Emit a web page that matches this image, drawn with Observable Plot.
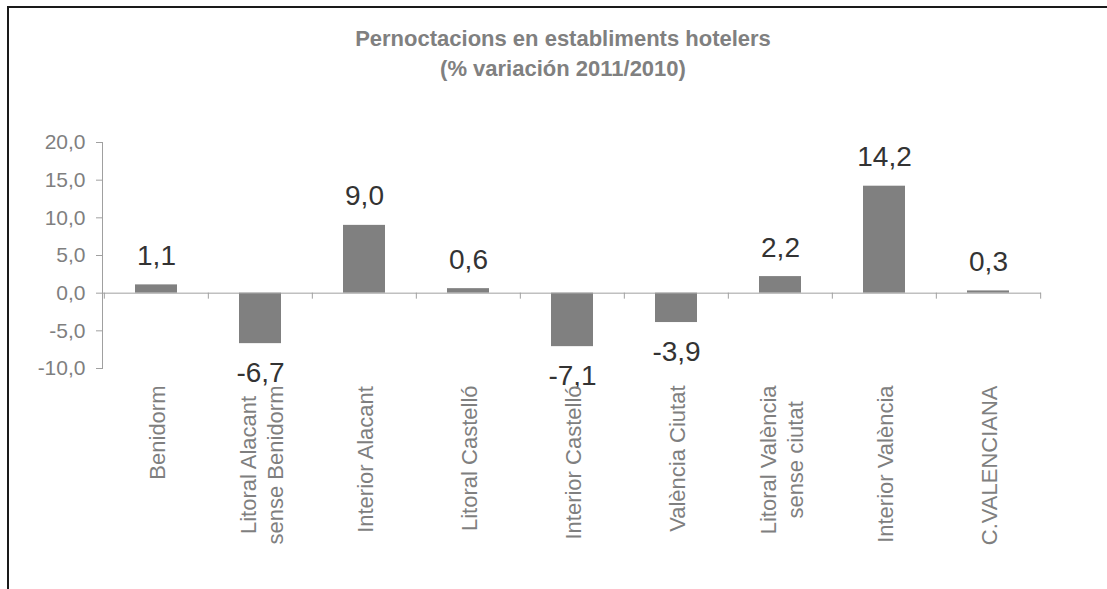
<!DOCTYPE html>
<html><head><meta charset="utf-8">
<script src="https://cdn.jsdelivr.net/npm/d3@7"></script>
<script src="https://cdn.jsdelivr.net/npm/@observablehq/plot@0.6"></script>
<style>
html,body{margin:0;padding:0;background:#fff;overflow:hidden;width:1107px;height:589px}
#frame{position:absolute;left:7px;top:6px;width:1200px;height:700px;border:2px solid #1a1a1a;box-sizing:border-box}
#title{position:absolute;left:0;top:24px;width:1126px;text-align:center;font:bold 22px "Liberation Sans",Arial,sans-serif;line-height:30px;color:#808080}
#chart{position:absolute;left:0;top:0}
</style></head><body>
<div id="frame"></div>
<div id="title">Pernoctacions en establiments hotelers<br>(% variación 2011/2010)</div>
<div id="chart"></div>
<script>
const categories = ["Benidorm", "Litoral Alacant\nsense Benidorm", "Interior Alacant", "Litoral Castelló", "Interior Castelló", "València Ciutat", "Litoral València\nsense ciutat", "Interior València", "C.VALENCIANA"];
const values = [1.1, -6.7, 9.0, 0.6, -7.1, -3.9, 2.2, 14.2, 0.3];
const yTicks = [-10, -5, 0, 5, 10, 15, 20];

const W = 1107, H = 589, mL = 102, mR = 66, mT = 142, mB = 221;
const step = (W - mL - mR) / categories.length;
const data = categories.map((c, i) => ({cat: c, value: values[i]}));
const fmt = v => v.toFixed(1).replace(".", ",");
const font = '"Liberation Sans", Arial, sans-serif';
const labelSize = 22;
const ctx = document.createElement("canvas").getContext("2d");
ctx.font = `${labelSize}px ${font}`;
const axisColor = "#a0a0a0";

const labelMarks = categories.map(c => {
  const w = Math.max(...c.split("\n").map(s => ctx.measureText(s).width));
  return Plot.text([c], {x: d => d, frameAnchor: "bottom", dy: 17 + w / 2, rotate: -90,
    textAnchor: "middle", lineAnchor: "middle", lineHeight: 1.22, fontSize: labelSize, fill: "#7f7f7f", text: d => d});
});

const chart = Plot.plot({
  width: W, height: H,
  marginLeft: mL, marginRight: mR, marginTop: mT, marginBottom: mB,
  style: {fontFamily: font, background: "transparent", overflow: "visible"},
  x: {domain: categories, paddingInner: 0.6, paddingOuter: 0.3, axis: null},
  y: {domain: [-10, 20], axis: null},
  marks: [
    Plot.barY(data, {x: "cat", y: "value", fill: "#808080"}),
    Plot.ruleY([0], {stroke: axisColor}),
    Plot.frame({anchor: "left", stroke: axisColor}),
    Plot.ruleX(categories, {x: d => d, y1: 0, y2: 0, dx: -step / 2, insetBottom: -6, stroke: axisColor}),
    Plot.ruleX([categories[categories.length - 1]], {x: d => d, y1: 0, y2: 0, dx: step / 2, insetBottom: -6, stroke: axisColor}),
    Plot.axisY({ticks: yTicks, tickFormat: fmt, tickSize: 6, tickPadding: 11, fontSize: 21, stroke: axisColor, fill: "#7f7f7f", label: null}),
    Plot.text(data.filter(d => d.value >= 0), {x: "cat", y: "value", text: d => fmt(d.value), lineAnchor: "bottom", dy: -20, fontSize: 28, fill: "#333"}),
    Plot.text(data.filter(d => d.value < 0), {x: "cat", y: "value", text: d => fmt(d.value), lineAnchor: "bottom", dy: 38, fontSize: 28, fill: "#333"}),
    ...labelMarks
  ]
});
document.getElementById("chart").appendChild(chart);
</script>
</body></html>
